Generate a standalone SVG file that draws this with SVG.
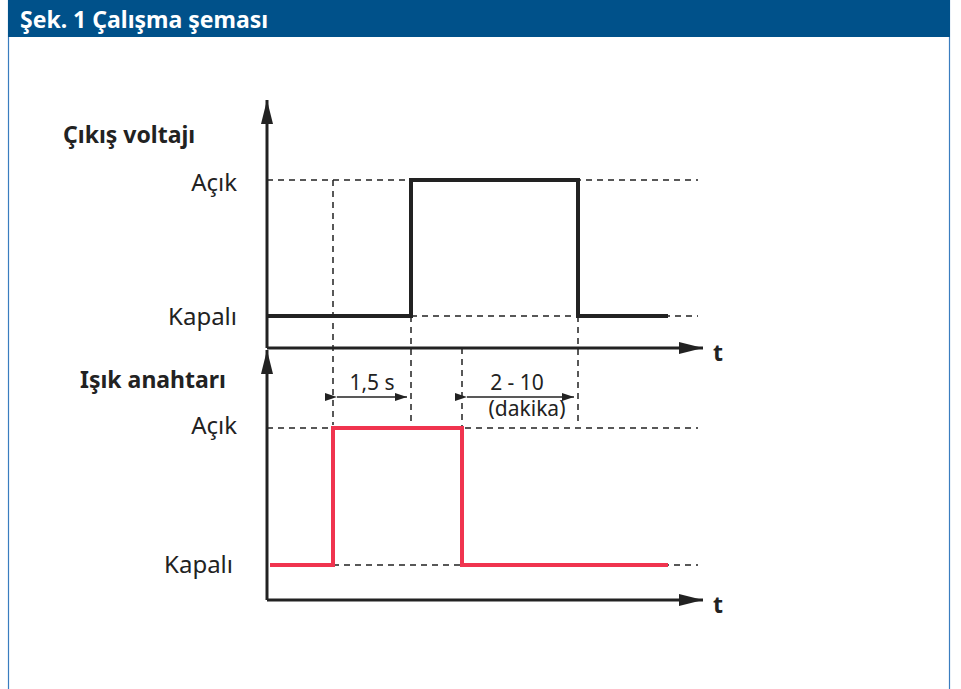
<svg xmlns="http://www.w3.org/2000/svg" width="961" height="689" viewBox="0 0 961 689">
<style>
.lbl{font-family:"Noto Sans","Open Sans",sans-serif;font-size:24px;fill:#222}
.sm{font-family:"Noto Sans","Open Sans",sans-serif;font-size:21px;fill:#222}
.bold{font-family:"Noto Sans","Open Sans",sans-serif;font-size:23px;font-weight:bold;fill:#222}
.axis{stroke:#222;stroke-width:3;fill:none}
.dash{stroke:#222;stroke-width:1.5;stroke-dasharray:6 5;fill:none}
.sig{stroke:#222;stroke-width:4;fill:none;stroke-linejoin:miter}
.red{stroke:#f0344f;stroke-width:4;fill:none;stroke-linejoin:miter}
.dim{stroke:#222;stroke-width:1.6;fill:none}
</style>
<defs>
<marker id="ah" viewBox="0 0 12 8" refX="12" refY="4" markerWidth="12" markerHeight="8" markerUnits="userSpaceOnUse" orient="auto"><path d="M0,0 L12,4 L0,8 z" fill="#222"/></marker>
<marker id="big" viewBox="0 0 24 12" refX="24" refY="6" markerWidth="24" markerHeight="12" markerUnits="userSpaceOnUse" orient="auto"><path d="M0,0 L24,6 L0,12 z" fill="#222"/></marker>
</defs>
<rect x="0" y="0" width="961" height="689" fill="#fff"/>
<rect x="8.5" y="0" width="941" height="700" fill="none" stroke="#3a7dbf" stroke-width="1.2"/>
<rect x="8" y="0" width="942" height="37" fill="#00518a"/>
<text x="20" y="28" font-family="'Noto Sans','Open Sans',sans-serif" font-size="23" font-weight="bold" fill="#fff">Şek. 1 Çalışma şeması</text>

<g id="connectors">
<path class="dash" d="M267,180 H698 M411,316 H698 M333,180 V425 M411,316 V425 M462,348 V428 M578,316 V425"/>
<path class="dash" d="M267,428 H698 M333,565 H698"/>
<path class="axis" d="M267,348 V100" marker-end="url(#big)"/>
<path class="axis" d="M267,348 H703" marker-end="url(#big)"/>
<path class="axis" d="M267,600 V350" marker-end="url(#big)"/>
<path class="axis" d="M267,600 H703" marker-end="url(#big)"/>
<path class="sig" d="M267,316 H411 V180 H578 V316 H668"/>
<path class="red" d="M270,565 H333 V428 H462 V565 H668"/>
<path class="dim" d="M337,397 H407" marker-start="url(#ah)" marker-end="url(#ah)"/>
<path class="dim" d="M467,397 H574" marker-start="url(#ah)" marker-end="url(#ah)"/>
</g>

<g id="top-labels">
<text class="bold" x="63" y="143">Çıkış voltajı</text>
<text class="lbl" x="237" y="191" text-anchor="end">Açık</text>
<text class="lbl" x="237" y="325" text-anchor="end">Kapalı</text>
<text class="bold" x="718" y="361" font-size="25" text-anchor="middle">t</text>
</g>
<g id="bottom-labels">
<text class="bold" x="80" y="388">Işık anahtarı</text>
<text class="lbl" x="237" y="434" text-anchor="end">Açık</text>
<text class="lbl" x="233" y="573" text-anchor="end">Kapalı</text>
<text class="bold" x="718" y="613" font-size="25" text-anchor="middle">t</text>
</g>
<g id="dim-labels">
<text class="sm" x="372" y="390" text-anchor="middle">1,5 s</text>
<text class="sm" x="517" y="390" text-anchor="middle">2 - 10</text>
<text class="sm" x="527" y="416" text-anchor="middle">(dakika)</text>
</g>
</svg>
